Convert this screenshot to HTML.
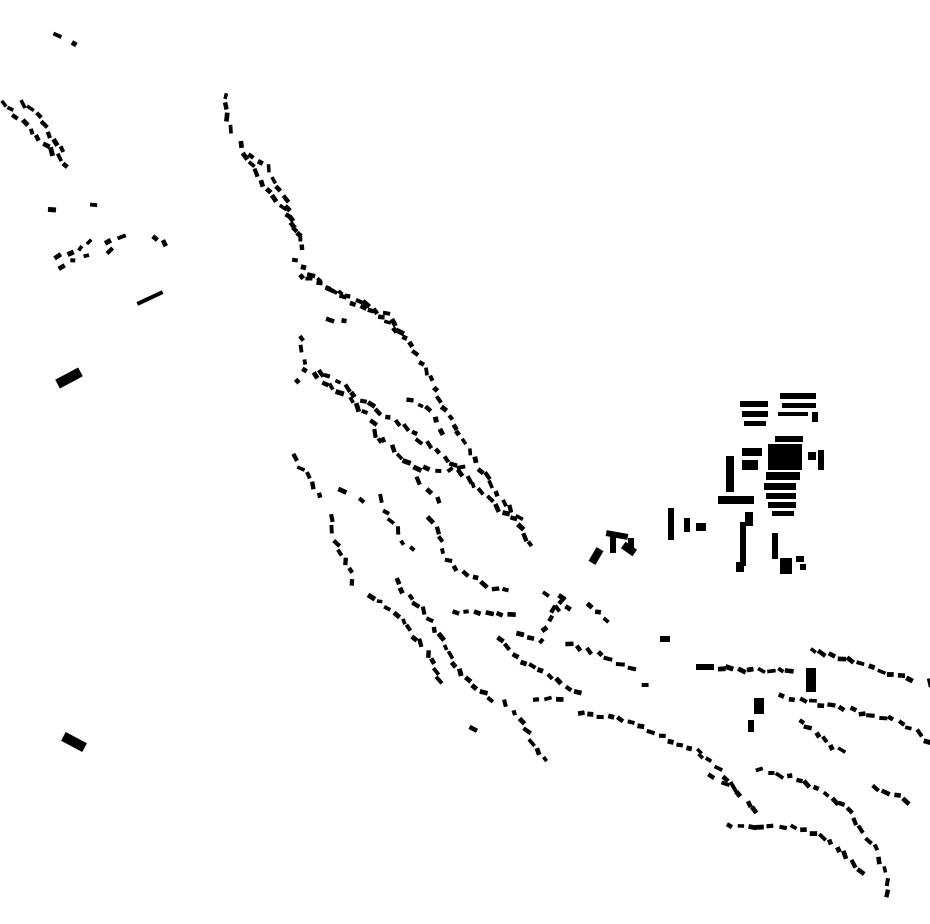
<!DOCTYPE html>
<html><head><meta charset="utf-8"><style>
html,body{margin:0;padding:0;background:#fff;}
svg{display:block}
</style></head><body>
<svg id="s" width="930" height="924" viewBox="0 0 930 924" xmlns="http://www.w3.org/2000/svg">
<g fill="#000">
<rect x="56" y="373" width="26" height="10" transform="rotate(-28 69 378)"/>
<rect x="62" y="737" width="24" height="10" transform="rotate(28 74 742)"/>
<rect x="136" y="296" width="28" height="4" transform="rotate(-25 150 298)"/>
<rect x="740" y="401" width="28" height="6"/>
<rect x="742" y="411" width="26" height="6"/>
<rect x="744" y="421" width="22" height="5"/>
<rect x="780" y="393" width="36" height="6"/>
<rect x="782" y="403" width="34" height="5"/>
<rect x="778" y="412" width="30" height="4"/>
<rect x="775" y="436" width="28" height="6"/>
<rect x="768" y="444" width="34" height="26"/>
<rect x="766" y="472" width="34" height="8"/>
<rect x="764" y="483" width="32" height="7"/>
<rect x="766" y="493" width="30" height="6"/>
<rect x="768" y="502" width="28" height="6"/>
<rect x="772" y="511" width="22" height="5"/>
<rect x="742" y="448" width="20" height="8"/>
<rect x="742" y="460" width="16" height="10"/>
<rect x="726" y="456" width="8" height="36"/>
<rect x="718" y="496" width="36" height="8"/>
<rect x="745" y="512" width="8" height="14"/>
<rect x="818" y="450" width="6" height="20"/>
<rect x="808" y="452" width="8" height="8"/>
<rect x="812" y="412" width="6" height="10"/>
<rect x="668" y="508" width="6" height="32"/>
<rect x="684" y="518" width="6" height="14"/>
<rect x="696" y="523" width="10" height="8"/>
<rect x="740" y="522" width="6" height="44"/>
<rect x="736" y="562" width="8" height="10"/>
<rect x="772" y="533" width="6" height="26"/>
<rect x="780" y="558" width="12" height="16"/>
<rect x="796" y="556" width="8" height="6"/>
<rect x="800" y="564" width="6" height="6"/>
<rect x="592" y="548" width="8" height="16" transform="rotate(30 596 556)"/>
<rect x="606" y="532" width="22" height="6" transform="rotate(10 617 535)"/>
<rect x="610" y="535" width="6" height="18"/>
<rect x="622" y="545" width="14" height="8" transform="rotate(35 629 549)"/>
<rect x="628" y="538" width="6" height="12"/>
<rect x="660" y="636" width="10" height="6"/>
<rect x="806" y="668" width="10" height="24"/>
<rect x="754" y="698" width="10" height="16"/>
<rect x="748" y="720" width="6" height="12"/>
<rect x="696" y="664" width="18" height="6"/>
</g>
<g id="gen" fill="#000"></g>
</svg>
<script>
var paths=[
[[58,34],[74,44]],
[[2,102],[20,120],[40,140],[66,166]],
[[22,104],[40,118],[62,150]],
[[54,210],[60,211]],[[95,206],[99,208]],
[[58,256],[90,242]],[[62,266],[86,254]],[[106,242],[120,238]],[[110,250],[118,246]],[[154,237],[164,244]],
[[224,96],[230,130]],
[[240,146],[262,180],[290,220],[302,246]],
[[252,158],[270,170],[290,210],[300,240]],
[[296,262],[318,280],[340,296],[372,312],[392,326],[412,346],[428,370],[440,400],[462,440],[480,470],[500,496],[520,520],[530,545]],
[[300,276],[330,290],[360,300],[390,316],[400,330]],
[[300,340],[304,370],[320,380],[350,398],[370,418],[380,442]],
[[296,380],[300,388]],
[[320,372],[345,386],[370,406],[392,418],[412,432],[432,450],[450,462],[470,480],[490,500],[512,520]],
[[330,320],[345,322]],
[[384,440],[400,456],[420,470],[440,470],[460,466]],
[[410,400],[430,410],[440,430]],
[[294,458],[310,478],[320,494]],
[[330,520],[334,540],[344,560],[354,582]],
[[344,492],[360,500]],
[[380,500],[392,520],[402,540],[412,550]],
[[432,520],[440,540],[446,560],[470,576],[492,586],[506,590]],
[[370,598],[390,608],[410,630],[426,650],[440,680]],
[[396,582],[412,600],[430,620],[448,650],[462,676],[490,700]],
[[455,612],[486,612],[512,616]],
[[500,640],[520,660],[546,672],[576,694]],
[[520,632],[540,640],[560,600]],
[[544,596],[556,608]],
[[570,642],[596,654],[630,668]],
[[588,606],[608,620]],
[[506,704],[524,724],[538,752],[546,760]],
[[536,700],[560,700]],
[[580,714],[610,716],[640,726],[670,740],[700,752]],
[[700,754],[720,772],[740,796],[756,810]],
[[712,776],[736,790]],
[[760,770],[790,776],[820,790],[848,810],[855,820]],
[[730,824],[760,826],[800,828],[830,840],[860,870]],
[[860,830],[876,850],[884,870],[888,892]],
[[720,668],[790,672]],
[[812,650],[850,660],[880,670],[910,680]],
[[782,696],[820,704],[860,712],[900,720],[926,740]],
[[800,722],[820,736],[840,752]],
[[876,790],[906,800]],
[[560,598],[570,606]],
[[420,480],[440,500]],
[[472,730],[476,736]],[[646,686],[650,688]],[[928,684],[928,686]]
];
var g=document.getElementById('gen'),ns="http://www.w3.org/2000/svg";
function rnd(i){var x=Math.sin(i*12.9898)*43758.5453;return x-Math.floor(x);}
var k=0;
paths.forEach(function(pts){
  if(pts.length<2)return;
  var L=[0];for(var i=1;i<pts.length;i++){L.push(L[i-1]+Math.hypot(pts[i][0]-pts[i-1][0],pts[i][1]-pts[i-1][1]));}
  var T=L[L.length-1];
  var n=Math.max(1,Math.floor(T/10)+1);
  for(var j=0;j<n;j++){
    var d=n==1?0:T*j/(n-1);var s=1;while(s<pts.length-1&&L[s]<d)s++;
    var a=pts[s-1],b=pts[s],seg=L[s]-L[s-1]||1,t=(d-L[s-1])/seg;
    var x=a[0]+(b[0]-a[0])*t,y=a[1]+(b[1]-a[1])*t;
    var ang=Math.atan2(b[1]-a[1],b[0]-a[0])*180/Math.PI;
    k++;
    x+=(rnd(k+7)-0.5)*4;y+=(rnd(k+13)-0.5)*4;
    ang+=(rnd(k+3)-0.5)*60;
    var w=5+rnd(k)*4,h=3.5+rnd(k+99)*1.5;
    var r=document.createElementNS(ns,'rect');
    r.setAttribute('x',(x-w/2).toFixed(1));r.setAttribute('y',(y-h/2).toFixed(1));
    r.setAttribute('width',w.toFixed(1));r.setAttribute('height',h.toFixed(1));
    r.setAttribute('transform','rotate('+ang.toFixed(0)+' '+x.toFixed(1)+' '+y.toFixed(1)+')');
    g.appendChild(r);
  }
});
</script>
</body></html>
